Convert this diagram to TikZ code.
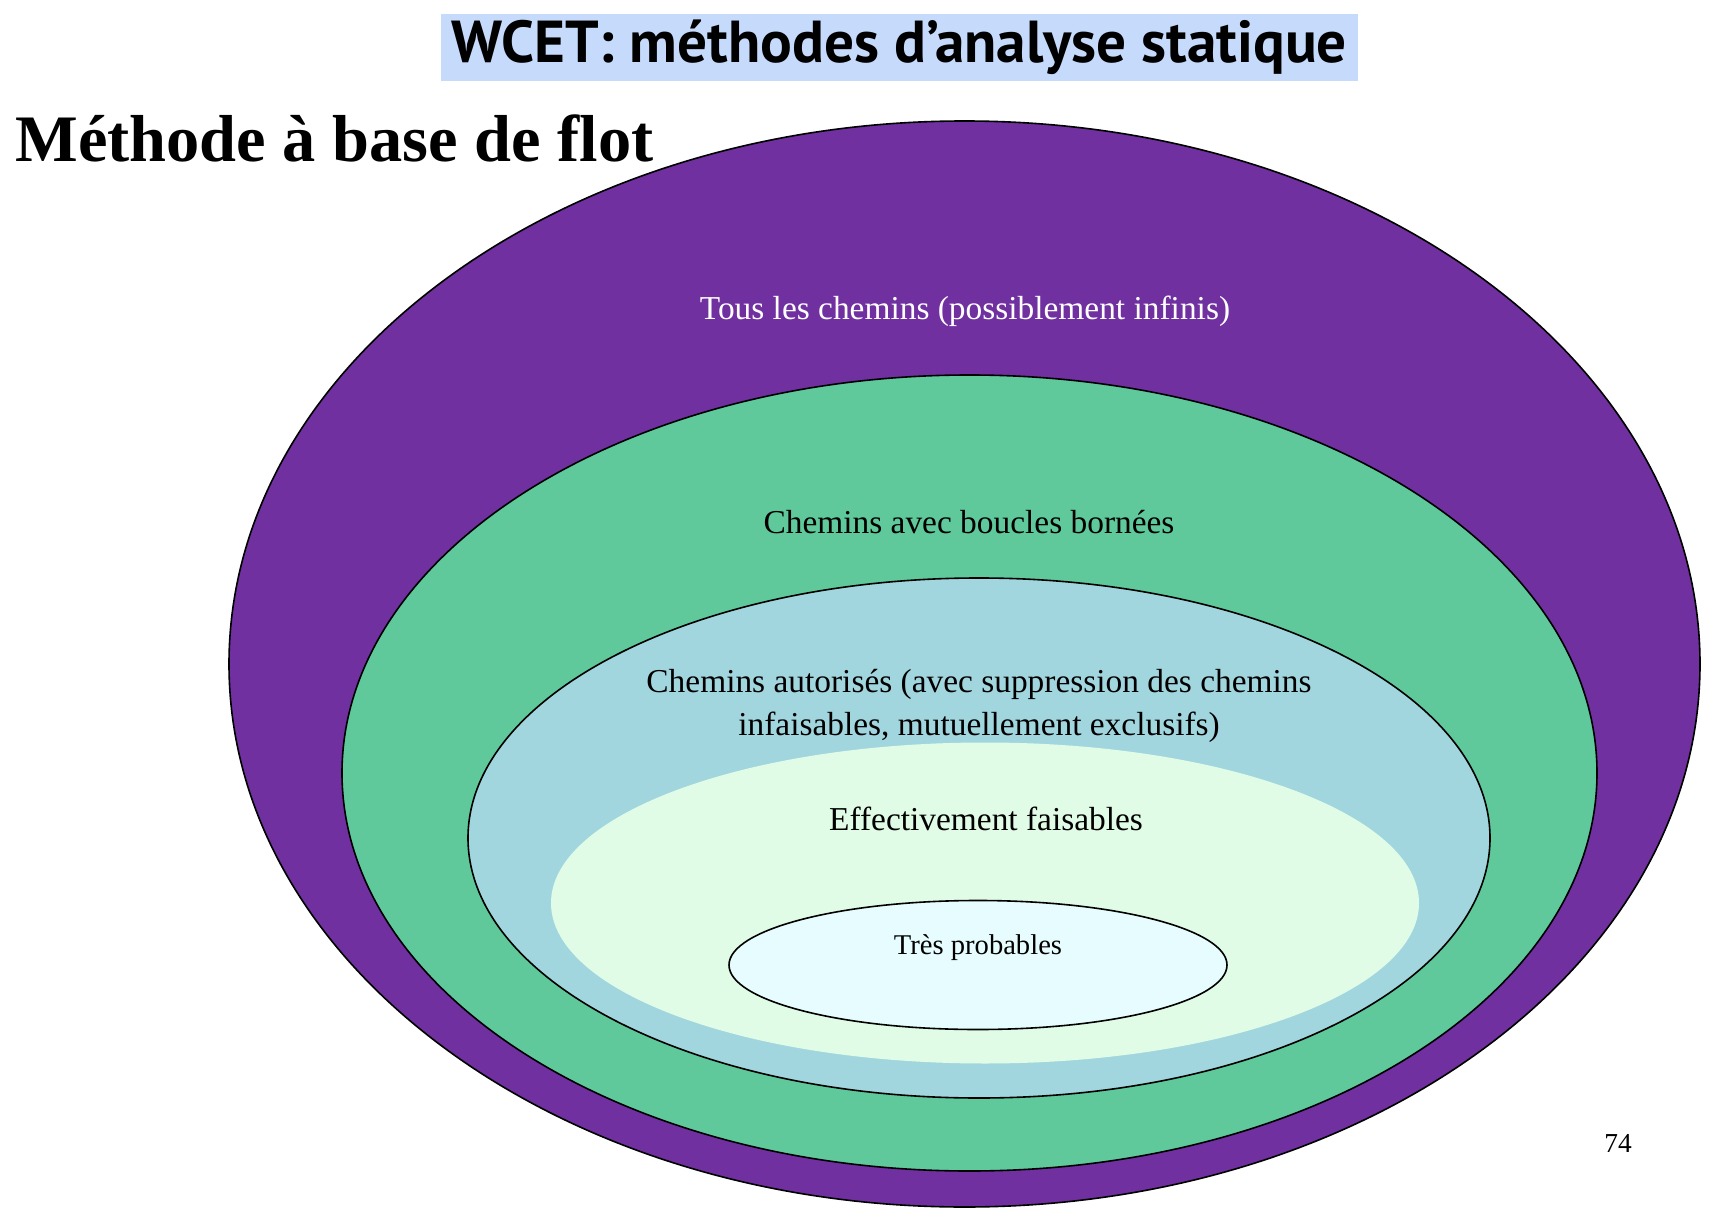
\documentclass[tikz,border=0pt]{standalone}
\usepackage{fontspec}
\setmainfont{Liberation Serif}
\newfontfamily\titlefont{PT Sans}
\usetikzlibrary{shapes.geometric}
\definecolor{titlebg}{RGB}{198,218,252}
\definecolor{allpaths}{RGB}{112,48,160}
\definecolor{bounded}{RGB}{95,201,155}
\definecolor{allowed}{RGB}{162,214,223}
\definecolor{feasible}{RGB}{224,252,230}
\definecolor{likely}{RGB}{230,252,254}
\begin{document}
\begin{tikzpicture}[
    x=0.5pt, y=-0.5pt,
    region/.style={ellipse, draw, line width=0.8pt, inner sep=0pt},
    lbl/.style={font=\fontsize{16.7}{21.4}\selectfont, align=center, inner sep=0pt}
]
    \useasboundingbox (0,0) rectangle (1719,1225);
    % Headings
    \node[fill=titlebg, minimum width=458.5pt, minimum height=33.5pt, inner sep=0pt,
          font=\titlefont\bfseries\fontsize{29.6}{34}\selectfont] (title) at (899.5,47.5) {WCET: méthodes d’analyse statique};
    \node[anchor=base west, inner sep=0pt, font=\bfseries\fontsize{33.2}{38}\selectfont] (method) at (15,162) {Méthode à base de flot};

    % Nested path sets
    \node[region, fill=allpaths, minimum width=735.5pt, minimum height=543pt] (all) at (964.5,664) {};
    \node[region, fill=bounded, minimum width=627.5pt, minimum height=398pt] (bnd) at (969.5,773) {};
    \node[region, fill=allowed, minimum width=511pt, minimum height=260pt] (auth) at (979,838) {};
    \node[region, draw=none, fill=feasible, minimum width=434pt, minimum height=160.5pt] (feas) at (985,903) {};
    \node[region, fill=likely, minimum width=249pt, minimum height=64.5pt] (prob) at (978,965) {};

    % Labels
    \node[lbl, text=white] (allLbl) at (965,311) {Tous les chemins (possiblement infinis)};
    \node[lbl] (bndLbl) at (969,522) {Chemins avec boucles bornées};
    \node[lbl] (authLbl) at (979,706) {Chemins autorisés (avec suppression des chemins\\infaisables, mutuellement exclusifs)};
    \node[lbl] (feasLbl) at (986,819) {Effectivement faisables};
    \node[lbl, font=\fontsize{14.3}{17}\selectfont] (probLbl) at (978,948) {Très probables};

    \node[inner sep=0pt, font=\fontsize{13.7}{16}\selectfont] (page) at (1618,1143) {74};
\end{tikzpicture}
\end{document}
